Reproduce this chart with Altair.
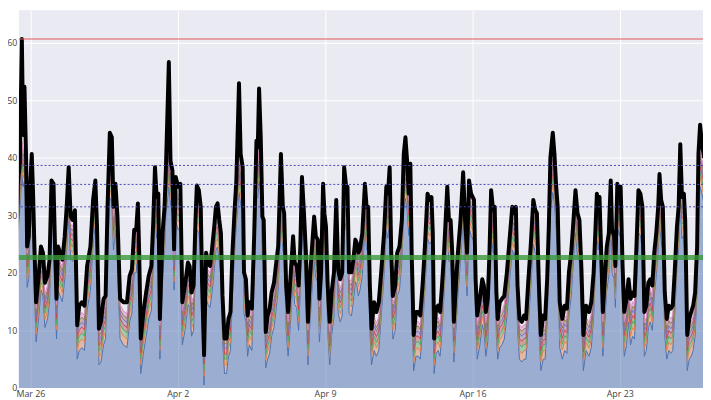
import altair as alt
import pandas as pd

# ---- black "total" line and blue base (hours since Mar 25 00:00 UTC) ----
H1 = [0, 2.2, 5.2, 6.7, 9.7, 11.9, 14.2, 15.7, 17.2, 19.1, 20.2, 22.1, 23.6, 25.5, 27.0, 28.5, 30.4, 33.0, 36.0, 38.3, 40.5, 43.5, 45.8, 48.0, 50.3, 52.2, 53.7, 55.5, 57.8, 60.4, 63.1, 65.3, 67.6, 69.8, 72.1, 74.7, 77.3, 79.6, 82.6, 85.6, 88.6, 92.4, 95.4, 98.0, 99.9, 102.1, 104.4, 107.4, 109.7, 111.9, 114.5, 116.8, 118.7, 120.9, 123.2, 126.2, 130.0]
T1 = [34.7, 35.5, 13.2, 13.2, 35.5, 39.0, 60.7, 44.0, 52.4, 39.5, 24.6, 26.4, 35.0, 40.7, 33.8, 24.6, 14.9, 18.9, 24.6, 23.5, 18.3, 19.5, 22.3, 36.1, 35.5, 23.5, 15.5, 24.6, 23.5, 22.3, 26.4, 31.5, 38.4, 29.8, 29.2, 30.9, 10.9, 14.3, 14.9, 14.3, 21.2, 24.6, 32.7, 36.1, 28.1, 10.3, 11.5, 15.5, 16.0, 31.5, 44.4, 43.6, 31.5, 35.5, 29.8, 15.5, 14.9]
B1 = [27.5, 28.5, 6.5, 6.3, 28, 31, 37, 35, 36, 31, 17.5, 19, 27, 30, 26, 17, 8, 11.5, 17, 16, 10.5, 12, 15, 28.5, 28, 16, 8.5, 17, 16, 15, 19, 24, 30, 22.5, 22, 23.5, 5, 6.5, 7, 6.5, 13.5, 17, 25, 28.5, 21, 4, 4.5, 7.5, 8.5, 24, 33, 32.5, 24, 27.5, 22, 8.5, 7.5]

H2 = [134.1, 137.1, 139.7, 142.3, 144.6, 146.5, 148.0, 149.8, 152.8, 155.9, 158.9, 161.9, 164.1, 166.0, 167.9, 169.8, 171.6, 174.6, 176.9, 178.4, 181.8, 183.7, 185.9, 187.8, 189.7, 192.3, 194.9, 197.2, 200.2, 203.6, 205.5, 207.7, 210.0, 212.2, 213.7, 216.0, 218.2, 219.7, 222.0, 224.3, 226.5, 228.8, 231.0, 233.6, 235.5, 237.4, 239.3, 241.2, 243.0, 245.3, 247.6, 249.8, 252.1, 254.3, 256.6, 258.8, 261.8, 263.7]
T2 = [14.9, 19.5, 20.6, 27.5, 27.5, 32.1, 23.5, 8.6, 13.2, 16.6, 19.5, 21.2, 29.2, 38.4, 33.2, 33.8, 12.0, 26.9, 31.5, 37.8, 56.7, 39.5, 37.8, 24.1, 36.7, 35.0, 35.5, 14.9, 17.8, 21.8, 21.2, 16.6, 17.8, 29.2, 35.2, 34.4, 31.5, 18.3, 5.7, 23.5, 21.8, 21.2, 24.1, 28.1, 31.5, 32.1, 29.2, 26.9, 16.0, 8.6, 8.6, 12.0, 13.2, 23.5, 30.4, 36.1, 53.0, 40.7]
B2 = [7, 11.5, 13, 20, 20, 24.5, 16, 2.5, 6, 9, 12, 13.5, 21.5, 30, 26, 26.5, 5, 19, 24, 30, 35, 32, 30.5, 17, 29, 27.5, 28, 7.5, 10, 14.5, 14, 9, 10, 21.5, 27.5, 27, 24, 10.5, 0.5, 15.5, 14.5, 14, 16.5, 20.5, 24, 24.5, 22, 19.5, 8.5, 2.5, 2.5, 5.5, 6.5, 16, 23, 28.5, 34, 32]

H3 = [266.0, 267.5, 269.7, 271.6, 273.5, 276.5, 279.1, 281.7, 283.2, 284.7, 286.6, 288.5, 290.0, 292.3, 294.5, 296.8, 299.0, 301.7, 304.3, 306.5, 309.6, 311.8, 313.3, 315.6, 317.8, 320.4, 323.5, 325.3, 327.6, 329.8, 331.7, 333.6, 335.9, 338.1, 340.4, 342.6, 344.9, 347.5, 349.4, 351.6, 353.5, 355.4, 357.7, 359.2, 361.0, 362.9, 365.2, 367.4, 370.1, 372.7, 374.9, 377.2, 379.5, 381.7, 384.0, 385.5, 387.3, 390.0, 392.2, 394.5]
T3 = [38.4, 20.1, 18.9, 12.6, 14.9, 13.8, 26.4, 43.0, 41.8, 52.1, 43.6, 29.8, 29.2, 9.7, 12.6, 13.8, 16.6, 18.3, 21.8, 24.6, 40.7, 31.5, 30.4, 17.8, 13.2, 18.9, 26.4, 21.8, 21.2, 17.8, 24.6, 36.7, 30.4, 23.5, 11.5, 18.9, 24.1, 29.8, 26.4, 25.8, 15.5, 20.1, 35.5, 30.4, 28.1, 17.8, 11.5, 16.6, 20.1, 32.7, 20.6, 18.9, 20.1, 38.4, 35.0, 35.0, 20.1, 20.1, 22.3, 25.8]
B3 = [30.5, 13, 11.5, 5.5, 7.5, 6.5, 19, 33, 33, 36, 34, 22.5, 22, 3.5, 5, 6, 9, 10.5, 14, 17, 30, 24, 23, 10, 5.5, 11, 19, 14.5, 14, 10, 17, 28, 23, 16, 4, 11, 16.5, 22.5, 19, 18.5, 8, 12.5, 27.5, 23, 21, 10, 4, 9, 12.5, 25, 13, 11.5, 12.5, 30, 27.5, 27.5, 13, 12.5, 15, 18.5]

H4 = [396.0, 397.9, 399.7, 402.4, 405.4, 407.3, 409.1, 411.0, 412.9, 415.9, 418.5, 421.2, 424.2, 427.2, 429.8, 431.7, 433.6, 435.4, 437.3, 439.9, 442.2, 444.8, 447.5, 449.7, 451.6, 453.5, 455.4, 457.2, 458.7, 461.0, 463.6, 466.3, 468.5, 471.1, 473.8, 476.8, 479.0, 481.3, 482.8, 484.3, 486.5, 488.8, 491.1, 493.3, 495.6, 499.3, 501.2, 503.1, 505.0, 506.8, 509.1, 511.4, 514.4, 517.4, 519.6, 521.9, 524.1]
T4 = [25.2, 23.5, 24.1, 26.9, 35.5, 31.5, 31.5, 17.8, 10.3, 14.9, 13.2, 14.9, 20.6, 26.9, 35.0, 33.8, 38.4, 23.5, 16.0, 17.8, 23.5, 24.6, 29.2, 40.7, 43.6, 39.5, 33.8, 39.0, 23.5, 9.2, 13.2, 13.2, 12.6, 17.8, 24.6, 33.8, 32.7, 33.2, 26.9, 8.6, 13.8, 14.3, 13.2, 17.8, 23.5, 35.0, 29.2, 29.2, 23.5, 11.5, 17.8, 23.5, 29.2, 37.5, 29.2, 23.5, 36.1]
B4 = [18, 16, 17, 19.5, 28, 24, 24, 10, 4, 6.5, 5.5, 6.5, 13, 19.5, 27.5, 26, 30, 16, 8.5, 10, 16, 17, 22, 31, 33, 31, 26.5, 30, 16, 3, 5.5, 5.5, 5, 10, 17, 26, 25, 25.5, 19.5, 2.5, 6, 6.5, 5.5, 10, 16, 27.5, 22, 22, 16, 4.5, 10, 16, 22, 29.5, 22, 16, 28]

H5 = [526.4, 529.8, 531.6, 533.5, 536.5, 539.2, 541.0, 543.3, 545.5, 547.4, 549.3, 551.6, 553.4, 555.3, 556.8, 559.1, 561.7, 564.3, 567.3, 570.3, 573.4, 575.6, 577.5, 579.4, 581.6, 584.3, 586.9, 589.1, 591.8, 594.4, 597.4, 599.7, 601.5, 603.8, 606.0, 608.7, 610.9, 613.2, 615.1, 616.9, 619.6, 621.5, 623.3, 625.2, 627.5, 630.5, 633.1, 635.7, 638.0, 640.6, 643.2, 645.5, 647.8, 650.0, 652.3, 654.5, 657.5]
T5 = [33.8, 32.7, 18.9, 12.6, 15.5, 18.9, 17.8, 13.2, 15.5, 23.5, 34.4, 30.9, 31.5, 16.6, 12.0, 14.9, 15.5, 16.0, 20.1, 25.8, 31.5, 30.4, 31.5, 17.8, 12.0, 11.5, 12.6, 12.0, 18.9, 24.6, 32.7, 30.9, 30.4, 17.8, 9.2, 12.6, 12.0, 18.9, 28.1, 40.1, 44.4, 40.7, 35.5, 31.5, 14.9, 12.0, 14.3, 13.8, 20.1, 23.5, 29.2, 34.4, 30.4, 29.2, 20.6, 9.2, 14.3]
B5 = [26.5, 25.5, 11.5, 5, 7.5, 11, 10, 5.5, 8, 16, 27, 23.5, 24, 9, 5, 7, 7.5, 8.5, 12.5, 18.5, 24, 23, 24, 10, 5, 4.5, 5, 5, 11.5, 17, 25, 23.5, 23, 10, 3, 5, 5, 11.5, 21, 31, 34, 32, 28, 24, 7, 5, 6.5, 6, 12.5, 16, 22, 27, 23, 22, 13, 3, 6.5]

H6 = [660.9, 663.5, 666.2, 668.4, 669.9, 671.4, 672.9, 674.8, 676.7, 678.9, 681.2, 683.5, 685.7, 687.2, 689.5, 691.0, 693.2, 695.5, 697.0, 699.2, 701.1, 703.7, 706.0, 708.3, 710.5, 712.8, 715.0, 717.3, 719.5, 721.8, 724.0, 726.3, 728.6, 730.8, 733.1, 735.3, 737.6, 739.8, 741.3, 743.2, 745.1, 747.3, 749.6, 751.9, 754.1, 756.4, 758.6, 761.2, 763.1, 765.0, 766.9, 769.1, 770.6, 772.9, 775.2, 777.4, 779.7, 781.9, 784.2, 785.7, 787.6, 789.4, 792.0]
T6 = [13.2, 14.9, 20.1, 28.1, 33.8, 31.5, 33.2, 23.5, 13.2, 18.9, 24.6, 26.9, 36.1, 27.5, 26.4, 21.2, 35.5, 33.8, 35.0, 21.2, 13.2, 15.5, 18.9, 15.5, 16.6, 16.0, 24.6, 34.4, 33.8, 31.5, 13.2, 14.3, 18.3, 18.9, 17.8, 23.5, 26.9, 31.5, 37.2, 32.7, 31.5, 16.6, 12.0, 14.3, 13.8, 14.3, 20.1, 28.1, 31.5, 42.4, 33.2, 33.8, 29.2, 9.2, 12.0, 13.2, 14.3, 16.6, 24.6, 40.7, 45.8, 43.0, 40.0]
B6 = [5.5, 7, 12.5, 21, 26.5, 24, 26, 16, 5.5, 11.5, 17, 19.5, 28.5, 20, 19, 14, 28, 26.5, 27.5, 14, 5.5, 7.5, 11.5, 7.5, 9, 8.5, 17, 27, 26.5, 24, 5.5, 6.5, 10.5, 11.5, 10, 16, 19.5, 24, 29, 25.5, 24, 9, 5, 6.5, 6, 6.5, 12.5, 21, 24, 32, 26, 26.5, 22, 3, 5, 5.5, 6.5, 9, 17, 31, 35, 34, 32]

# ---- daily thickness of the thin stacked bands ----
ORANGE_W = [1.5, 1.4, 1.6, 1.5, 1.4, 1.5, 1.6, 1.5, 1.4, 1.5, 1.5, 1.6, 1.4, 1.5, 1.5, 1.4, 1.6, 1.5, 1.5, 1.4, 1.5, 1.6, 1.5, 1.4, 1.5, 1.5, 1.6, 1.4, 1.5, 1.5, 1.4, 1.5, 1.6, 1.5]
GREEN_W = [1.0, 1.1, 0.9, 1.0, 1.0, 1.1, 1.0, 0.9, 1.0, 1.1, 1.0, 1.0, 0.9, 1.0, 1.1, 1.0, 1.0, 0.9, 1.0, 1.1, 1.0, 1.0, 0.9, 1.0, 1.1, 1.0, 1.0, 0.9, 1.0, 1.1, 1.0, 1.0, 0.9, 1.0]
RED_W = [1.0, 0.9, 1.0, 1.1, 1.0, 0.9, 1.0, 1.0, 1.1, 1.0, 0.9, 1.0, 1.0, 1.1, 1.0, 0.9, 1.0, 1.0, 1.1, 1.0, 0.9, 1.0, 1.0, 1.1, 1.0, 0.9, 1.0, 1.0, 1.1, 1.0, 0.9, 1.0, 1.0, 1.1]
PURPLE_W = [0.9, 0.9, 1.0, 0.8, 0.9, 0.9, 1.0, 0.8, 0.9, 0.9, 1.0, 0.8, 0.9, 0.9, 1.0, 0.8, 0.9, 0.9, 1.0, 0.8, 0.9, 0.9, 1.0, 0.8, 0.9, 0.9, 1.0, 0.8, 0.9, 0.9, 1.0, 0.8, 0.9, 0.9]
BROWN_W = [0.8, 0.7, 0.8, 0.9, 0.8, 0.7, 0.8, 0.9, 0.8, 0.7, 0.8, 0.9, 0.8, 0.7, 0.8, 0.9, 0.8, 0.7, 0.8, 0.9, 0.8, 0.7, 0.8, 0.9, 0.8, 0.7, 0.8, 0.9, 0.8, 0.7, 0.8, 0.9, 0.8, 0.7]
PINK_W = [0.7, 0.8, 0.7, 0.8, 0.7, 0.8, 0.7, 0.8, 0.7, 0.8, 0.7, 0.8, 0.7, 0.8, 0.7, 0.8, 0.7, 0.8, 0.7, 0.8, 0.7, 0.8, 0.7, 0.8, 0.7, 0.8, 0.7, 0.8, 0.7, 0.8, 0.7, 0.8, 0.7, 0.8]

SERIES = ["a_base", "b_orange", "c_green", "d_red", "e_purple", "f_brown", "g_pink"]
COLORS = ["#4C72B0", "#DD8452", "#55A868", "#C44E52", "#8172B3", "#937860", "#DA8BC3"]
BANDS = [ORANGE_W, GREEN_W, RED_W, PURPLE_W, BROWN_W, PINK_W]

RED_LEVEL = [60.7]
DOTTED_LEVELS = [38.7, 35.4, 31.5]
GREEN_LEVEL = [22.7]

TICK_DAYS = [1, 8, 15, 22, 29]  # Mar 26, Apr 2, Apr 9, Apr 16, Apr 23
Y_TICKS = [0, 10, 20, 30, 40, 50, 60]

# ---- build tables ----
H = H1 + H2 + H3 + H4 + H5 + H6
TOTAL = T1 + T2 + T3 + T4 + T5 + T6
BASE = B1 + B2 + B3 + B4 + B5 + B6

start_ms = int(pd.Timestamp("2023-03-25T00:00:00Z").value // 10**6)


def ms(h):
    return start_ms + int(round(h * 3600000))


rows = []
for h, b in zip(H, BASE):
    d = int(h // 24)
    rows.append({"t": ms(h), "series": SERIES[0], "v": b, "o": 0})
    for j, w in enumerate(BANDS):
        rows.append({"t": ms(h), "series": SERIES[j + 1], "v": w[min(d, len(w) - 1)], "o": j + 1})
stack_df = pd.DataFrame(rows)
total_df = pd.DataFrame({"t": [ms(h) for h in H], "v": TOTAL})

x_enc = alt.X(
    "t:T",
    scale=alt.Scale(type="utc", domain=[ms(10.8), ms(790.9)]),
    axis=alt.Axis(values=[ms(24 * k) for k in TICK_DAYS], format="%b %-d", title=None,
                  labelPadding=2, labelFlush=False),
)
y_scale = alt.Scale(domain=[0, 65.7], nice=False, zero=True)
y_axis = alt.Axis(values=Y_TICKS, title=None, labelPadding=2)
color_enc = alt.Color("series:N", scale=alt.Scale(domain=SERIES, range=COLORS), legend=None)

stacked = alt.Chart(stack_df).transform_stack(
    stack="v", groupby=["t"], as_=["y0", "y1"], sort=[alt.SortField("o", order="ascending")]
)

areas = stacked.mark_area(clip=True, fillOpacity=0.5, interpolate="linear").encode(
    x=x_enc, y=alt.Y("y1:Q", scale=y_scale, axis=y_axis), y2="y0:Q", color=color_enc
)
edges = stacked.mark_line(clip=True, strokeWidth=1).encode(
    x=x_enc, y=alt.Y("y1:Q", scale=y_scale, axis=y_axis), color=color_enc, detail="series:N"
)
black = alt.Chart(total_df).mark_line(clip=True, color="black", strokeWidth=4, strokeJoin="round").encode(
    x=x_enc, y=alt.Y("v:Q", scale=y_scale, axis=y_axis)
)

red_rule = alt.Chart(pd.DataFrame({"y": RED_LEVEL})).mark_rule(color="#E4585A", strokeWidth=1.2).encode(
    y=alt.Y("y:Q", scale=y_scale, axis=y_axis)
)
dot_rules = alt.Chart(pd.DataFrame({"y": DOTTED_LEVELS})).mark_rule(
    color="#4848B8", strokeWidth=1, strokeDash=[2, 2]
).encode(y=alt.Y("y:Q", scale=y_scale, axis=y_axis))
green_rule = alt.Chart(pd.DataFrame({"y": GREEN_LEVEL})).mark_rule(
    color="#3A9A3A", strokeWidth=5, opacity=0.8
).encode(y=alt.Y("y:Q", scale=y_scale, axis=y_axis))

chart = (
    alt.layer(areas, edges, black, red_rule, dot_rules, green_rule)
    .properties(
        width=692,
        height=382,
        padding={"left": 11, "top": 0, "right": 0, "bottom": 12},
        autosize=alt.AutoSizeParams(type="none"),
        background="white",
    )
    .configure_view(strokeWidth=0, fill="#EAEAF2")
    .configure_axis(
        grid=True,
        gridColor="white",
        gridWidth=1,
        domain=False,
        ticks=False,
        labelFont="Open Sans",
        labelFontSize=9,
        labelColor="#444444",
    )
)

chart.save("out.html", embed_options={"renderer": "svg", "actions": False})
